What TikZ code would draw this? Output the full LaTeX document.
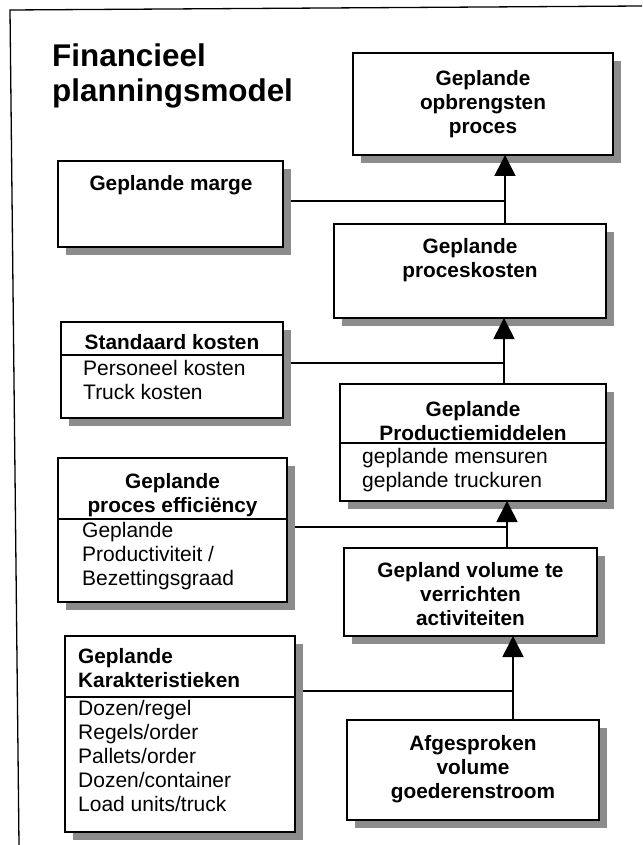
\documentclass[tikz,border=0pt]{standalone}
\usepackage{fontspec}
\setmainfont{Liberation Sans}
\usetikzlibrary{arrows.meta,calc}

\tikzset{
  boxframe/.style={draw, line width=1.6pt, fill=white, inner sep=0pt, outer sep=0pt, anchor=north west},
  shade/.style={fill=black!45},
  hd/.style={font=\bfseries\fontsize{20.8}{24}\selectfont, align=center, inner sep=0pt, anchor=north},
  hdl/.style={font=\bfseries\fontsize{20.8}{24}\selectfont, align=left, inner sep=0pt, anchor=north west},
  itm/.style={font=\fontsize{21}{24}\selectfont, align=left, inner sep=0pt, anchor=north west},
  wire/.style={line width=1.6pt},
  arr/.style={line width=1.6pt, -{Triangle[length=21pt,width=21pt]}},
  frameline/.style={line width=1.3pt}
}

% shadowed box: name, x1, y1, x2, y2 (y grows downwards)
\newcommand\shadowbox[5]{%
  \fill[shade] (#2+8,#3+8) rectangle (#4+8,#5+8);
  \node[boxframe, minimum width=#4-#2, minimum height=#5-#3] (#1) at (#2,#3) {};
}

\begin{document}
\begin{tikzpicture}[x=1pt,y=-1pt]
\useasboundingbox (0,0) rectangle (642,845);

% outer frame (runs past the page on the right and below)
\draw[frameline] (642,6) -- (10,10) -- (19,845);

% title
\node[font=\bfseries\fontsize{31.4}{35}\selectfont, align=left, inner sep=0pt, anchor=north west]
  (title) at (52,44) {Financieel\\planningsmodel};

% boxes
\shadowbox{opbr}{353}{53}{613}{155}
\shadowbox{marge}{58}{161}{283}{247}
\shadowbox{proces}{334}{224}{606}{318}
\shadowbox{stand}{61}{322}{283}{418}
\shadowbox{prodm}{340}{384}{606}{501}
\shadowbox{effic}{58}{458}{287}{602}
\shadowbox{volume}{344}{548}{597}{636}
\shadowbox{karak}{65}{636}{295}{832}
\shadowbox{afges}{347}{720}{599}{820}

% dividers between heading and item list
\draw[wire] (stand.west |- 0,355) -- (stand.east |- 0,355);
\draw[wire] (prodm.west |- 0,443) -- (prodm.east |- 0,443);
\draw[wire] (effic.west |- 0,519) -- (effic.east |- 0,519);
\draw[wire] (karak.west |- 0,697) -- (karak.east |- 0,697);

% texts
\node[hd] (topbr) at (483,70) {Geplande\\opbrengsten\\proces};
\node[hd] (tmarge) at (171,175) {Geplande marge};
\node[hd] (tproces) at (470,238) {Geplande\\proceskosten};
\node[hd] (tstand) at (172,334) {Standaard kosten};
\node[itm] (istand) at (83,359.7) {Personeel kosten\\Truck kosten};
\node[hd] (tprodm) at (473,401) {Geplande\\Productiemiddelen};
\node[itm] (iprodm) at (362,447.7) {geplande mensuren\\geplande truckuren};
\node[hd] (teffic) at (172.5,473) {Geplande\\proces efficiëncy};
\node[itm] (ieffic) at (82,521.7) {Geplande\\Productiviteit /\\Bezettingsgraad};
\node[hd] (tvolume) at (470.5,562) {Gepland volume te\\verrichten\\activiteiten};
\node[hdl] (tkarak) at (78,648) {Geplande\\Karakteristieken};
\node[itm] (ikarak) at (78,699.7) {Dozen/regel\\Regels/order\\Pallets/order\\Dozen/container\\Load units/truck};
\node[hd] (tafges) at (473,735) {Afgesproken\\volume\\goederenstroom};

% junctions on the vertical flow
\coordinate (j1) at (505,201);
\coordinate (j2) at (504,363);
\coordinate (j3) at (507,527);
\coordinate (j4) at (513,691);

% side inputs
\draw[wire] ($(marge.east |- j1)+(8,0)$) -- (j1);
\draw[wire] ($(stand.east |- j2)+(8,0)$) -- (j2);
\draw[wire] ($(effic.east |- j3)+(8,0)$) -- (j3);
\draw[wire] ($(karak.east |- j4)+(8,0)$) -- (j4);

% upward flow
\draw[arr] (proces.north -| j1) -- (opbr.south -| j1);
\draw[arr] (prodm.north -| j2) -- (proces.south -| j2);
\draw[arr] (volume.north -| j3) -- (prodm.south -| j3);
\draw[arr] (afges.north -| j4) -- (volume.south -| j4);
\end{tikzpicture}
\end{document}
